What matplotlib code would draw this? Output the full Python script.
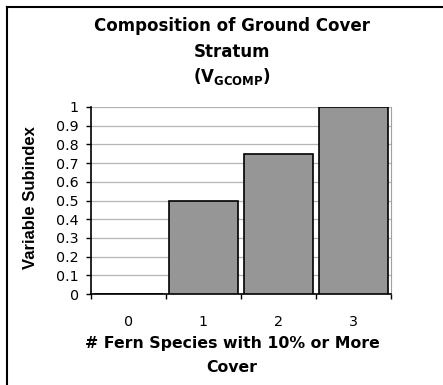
import numpy as np
import matplotlib
matplotlib.use('Agg')
import matplotlib.pyplot as plt
from matplotlib.lines import Line2D

plt.rcParams['font.family'] = ['DejaVu Sans']

categories = ['0', '1', '2', '3']
subindex = [0.0, 0.5, 0.75, 1.0]

W, H = 443, 385
fig = plt.figure(figsize=(W / 100, H / 100), dpi=100)
ax = fig.add_axes([91 / W, 1 - 294 / H, 300 / W, 187 / H])

x = np.arange(len(categories))
ax.bar(x, subindex, width=0.92, color='#969696', edgecolor='black', linewidth=1.2, zorder=3)

ax.set_xlim(-0.5, 3.5)
ax.set_ylim(0, 1)
ax.set_yticks(np.arange(0, 1.01, 0.1))
ax.set_yticklabels(['0', '0.1', '0.2', '0.3', '0.4', '0.5', '0.6', '0.7', '0.8', '0.9', '1'])
ax.yaxis.grid(True, color='#b4b4b4', linewidth=0.9, zorder=0)
ax.set_axisbelow(True)

ax.set_xticks(x)
ax.set_xticklabels(categories)
ax.set_xticks(np.arange(-0.5, 3.6, 1), minor=True)
ax.tick_params(axis='x', which='major', length=0, pad=15, labelsize=10.3)
ax.tick_params(axis='x', which='minor', length=3.6, width=1, direction='out')
ax.tick_params(axis='y', length=3.4, width=1, pad=5.5, labelsize=10.3)

ax.spines['top'].set_visible(False)
ax.spines['right'].set_color('#a0a0a0')
ax.spines['left'].set_linewidth(1.2)
ax.spines['bottom'].set_linewidth(1.2)

# titles and labels
cx = 232 / W
fig.text(cx, 1 - 31 / H, 'Composition of Ground Cover', ha='center', va='baseline',
         fontsize=12, fontweight='bold')
fig.text(cx, 1 - 56.7 / H, 'Stratum', ha='center', va='baseline', fontsize=12, fontweight='bold')
fig.text(cx, 1 - 81.7 / H, r'(V$_{\mathbf{GCOMP}}$)', ha='center', va='baseline',
         fontsize=12, fontweight='bold')
fig.text(30.5 / W, 1 - 198 / H, 'Variable Subindex', ha='center', va='center',
         rotation=90, fontsize=12, fontweight='bold', family='Liberation Sans')
fig.text(cx, 1 - 347.7 / H, '# Fern Species with 10% or More', ha='center', va='baseline',
         fontsize=11.3, fontweight='bold')
fig.text(cx, 1 - 371.7 / H, 'Cover', ha='center', va='baseline', fontsize=11.3, fontweight='bold')

# chart area border (left and top edges visible)
fig.add_artist(Line2D([6.5 / W, 6.5 / W], [0, 1 - 6.5 / H], color='black', linewidth=1.5,
                      transform=fig.transFigure))
fig.add_artist(Line2D([6.5 / W, 1], [1 - 6.5 / H, 1 - 6.5 / H], color='black', linewidth=1.5,
                      transform=fig.transFigure))

fig.savefig('out.png', dpi=100)
